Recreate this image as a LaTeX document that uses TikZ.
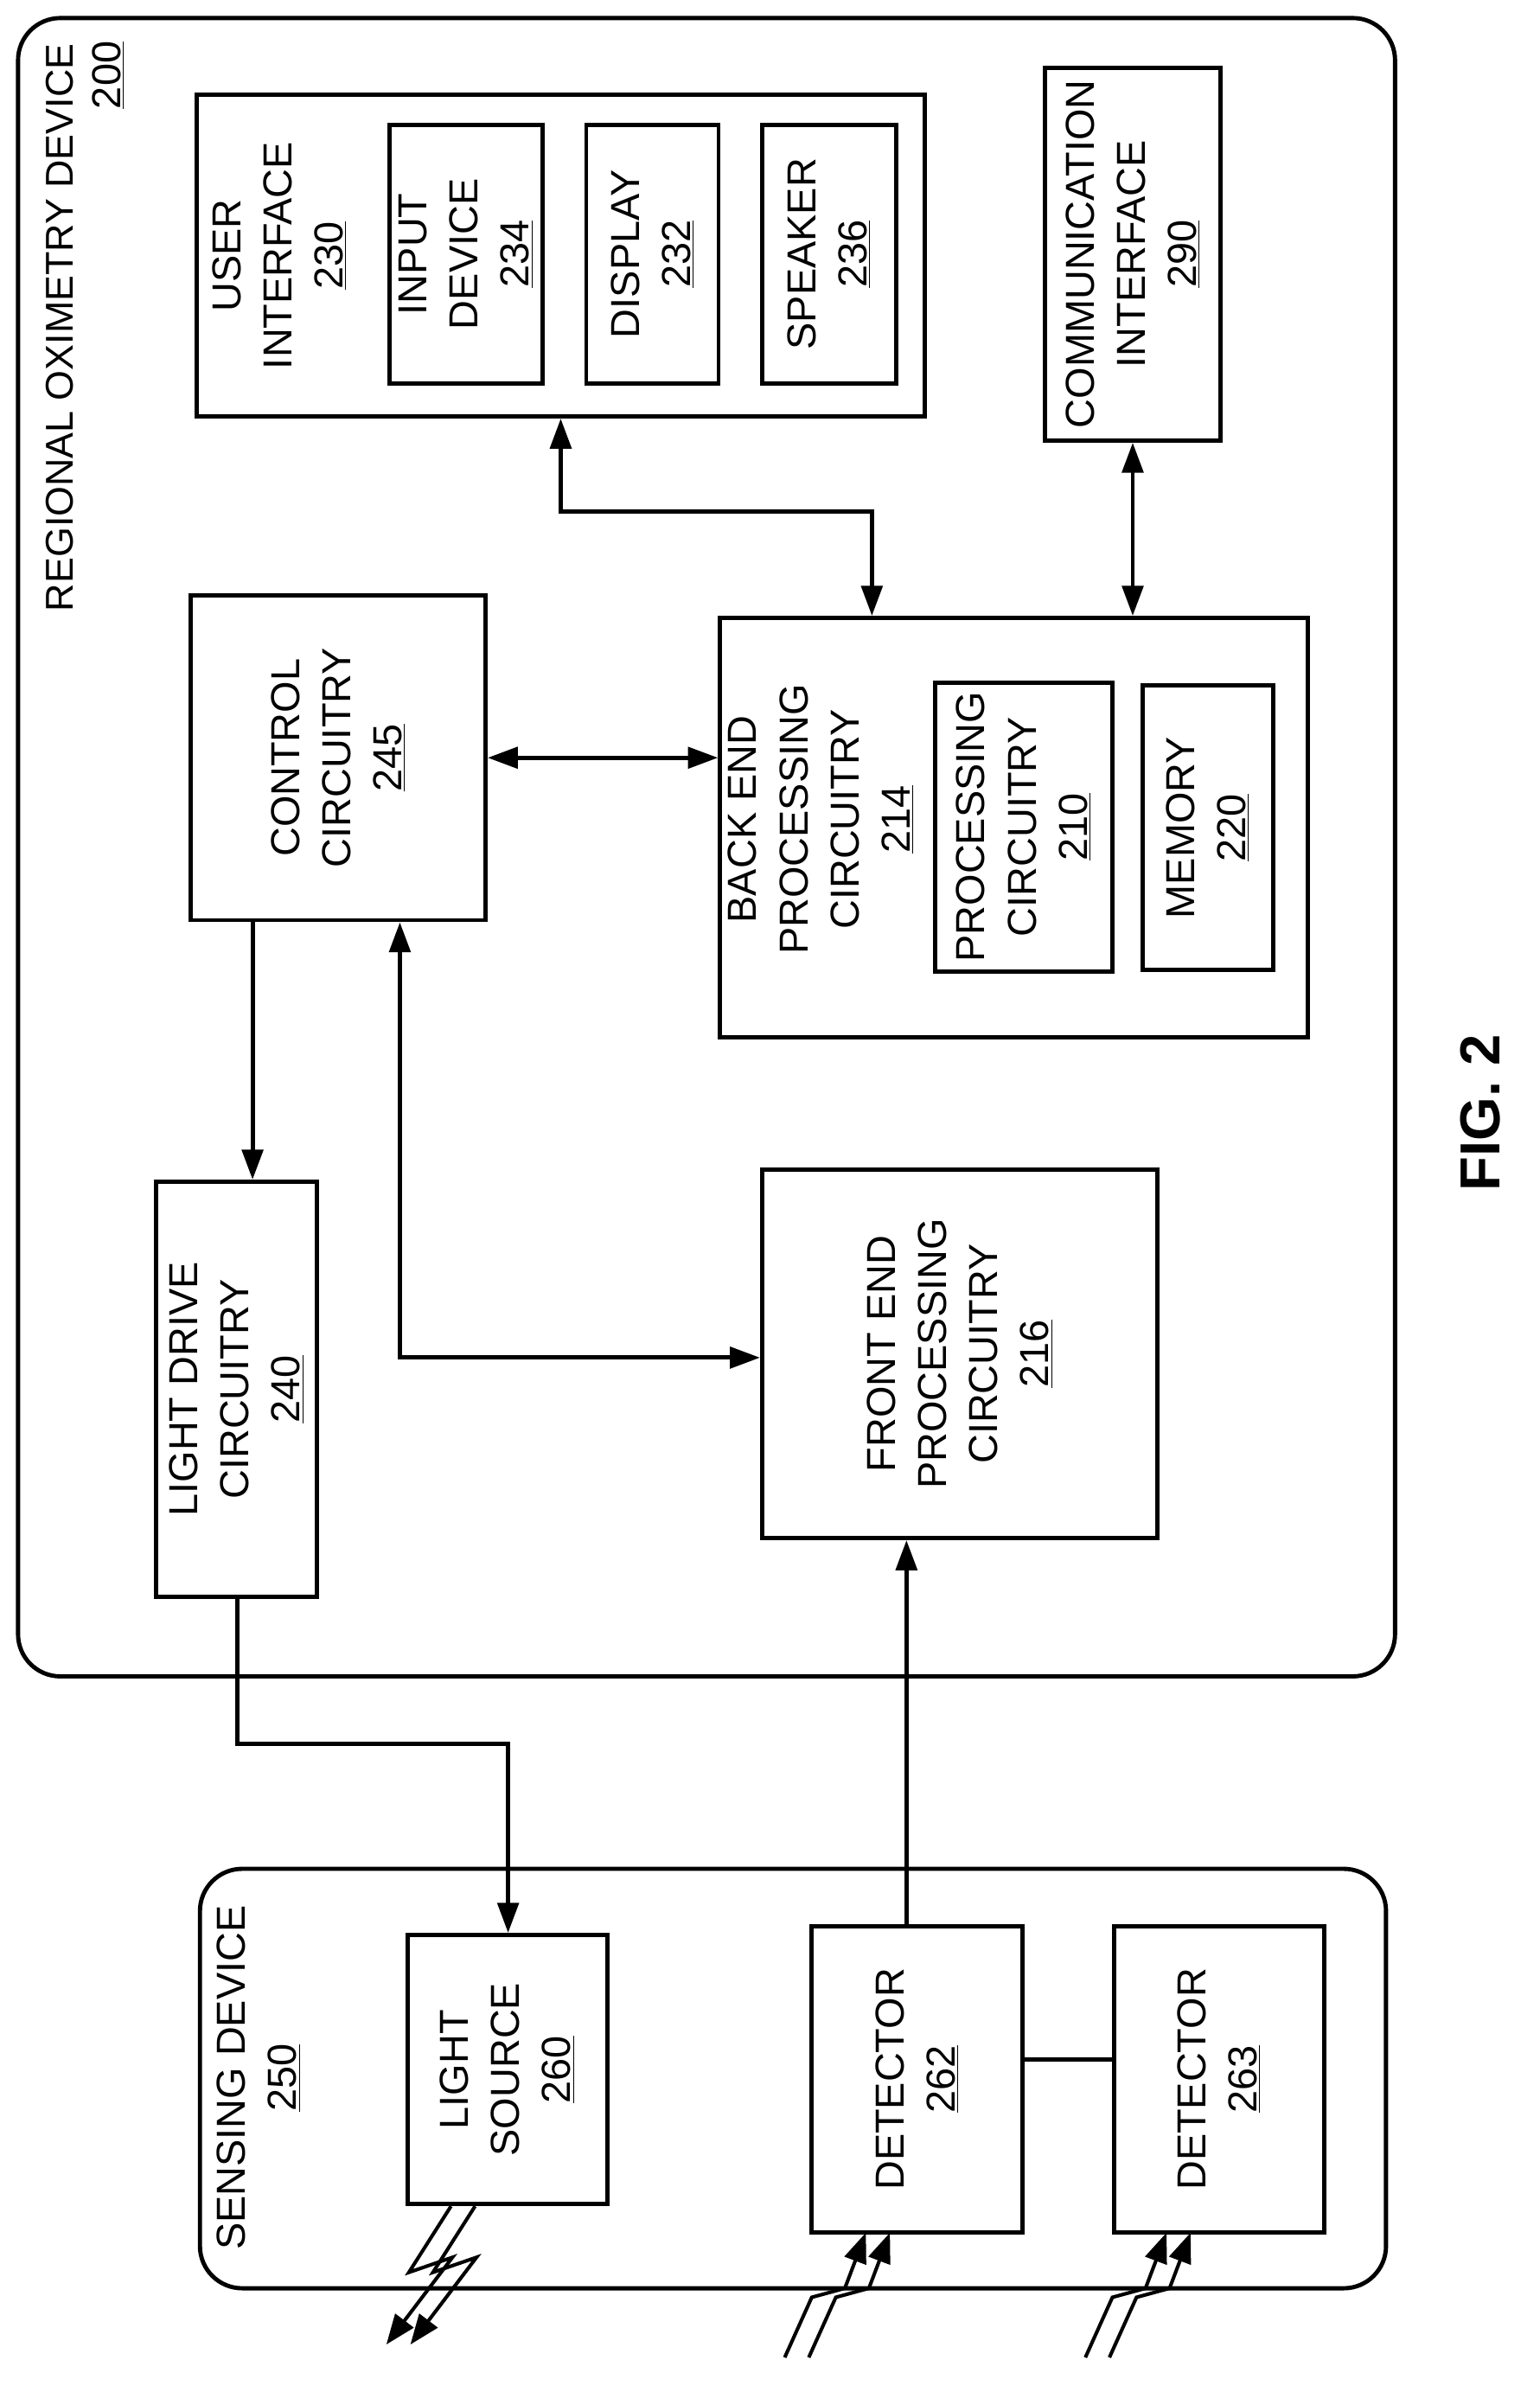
\documentclass[tikz,border=0pt]{standalone}
\usepackage{fontspec}
\setmainfont{Liberation Sans}
\usetikzlibrary{positioning, arrows.meta}
\newcommand{\ublk}[7][]{% name, x1, y1, x2, y2, text
  \node[box, #1, minimum width={(#5-#3)*0.3mm}, minimum height={(#4-#2)*0.3mm}] (#6) at ({(#2+#4)/2},{(#3+#5)/2}) {#7};}
\begin{document}
\begin{tikzpicture}[x=0.3mm, y=-0.3mm, line width=2.4pt,
        box/.style = {draw, rotate=90, align=center, inner sep=0pt, font=\fontsize{23}{29}\selectfont},%
        txt/.style = {rotate=90, align=center, font=\fontsize{23}{29}\selectfont},%
        arrow/.style = {-{Triangle[length=6mm, width=4.2mm]}},%
        both/.style = {{Triangle[length=6mm, width=4.2mm]}-{Triangle[length=6mm, width=4.2mm]}},%
        bolt/.style = {line width=2pt, -{Triangle[length=6mm, width=4.5mm]}}%
    ]%
    \useasboundingbox (0,0) rectangle (1024,1591);
    % enclosures
    \draw[rounded corners=24pt] (12,12) rectangle (928,1115);
    \node[txt, anchor=west, font=\fontsize{22}{27}\selectfont] (rod) at (40,412) {REGIONAL OXIMETRY DEVICE};
    \node[txt] (rodn) at (72,50) {\underline{200}};
    \draw[rounded corners=24pt] (133,1243) rectangle (922,1522);
    \node[txt] (sens) at (172,1382) {SENSING DEVICE\\\underline{250}};
    % blocks
    \ublk{131}{63}{615}{277}{ui}{}
    \node[txt] (uit) at (186,170) {USER\\INTERFACE\\\underline{230}};
    \ublk{259}{83}{361}{255}{inp}{INPUT\\DEVICE\\\underline{234}}
    \ublk{390}{83}{478}{255}{disp}{DISPLAY\\\underline{232}}
    \ublk{507}{83}{596}{255}{spk}{SPEAKER\\\underline{236}}
    \ublk{695}{45}{812}{293}{comm}{COMMUNICATION\\INTERFACE\\\underline{290}}
    \ublk{127}{396}{323}{612}{ctrl}{CONTROL\\CIRCUITRY\\\underline{245}}
    \ublk{479}{411}{870}{690}{be}{}
    \node[txt] (bet) at (546,545) {BACK END\\PROCESSING\\CIRCUITRY\\\underline{214}};
    \ublk{622}{454}{740}{646}{proc}{PROCESSING\\CIRCUITRY\\\underline{210}}
    \ublk{760}{456}{847}{645}{mem}{MEMORY\\\underline{220}}
    \ublk{104}{786}{211}{1062}{ld}{LIGHT DRIVE\\CIRCUITRY\\\underline{240}}
    \ublk{507}{778}{770}{1023}{fe}{FRONT END\\PROCESSING\\CIRCUITRY\\\underline{216}}
    \ublk{271}{1287}{404}{1466}{ls}{LIGHT\\SOURCE\\\underline{260}}
    \ublk{540}{1281}{680}{1485}{dA}{DETECTOR\\\underline{262}}
    \ublk{741}{1281}{881}{1485}{dB}{DETECTOR\\\underline{263}}
    \node[txt, font=\fontsize{32}{38}\selectfont\bfseries] (fig) at (985,740) {FIG. 2};
    % connectors
    \draw[both] (ui.west -| 373,0) |- (580,340) -- (be.east -| 580,0);
    \draw[both] (comm.west) -- (be.east -| comm.west);
    \draw[both] (ctrl.south) -- (be.north |- ctrl.south);
    \draw[arrow] (ctrl.west -| 168,0) -- (ld.east -| 168,0);
    \draw[both] (ctrl.west -| 266,0) |- (fe.north |- 0,903);
    \draw[arrow] (ld.west -| 158,0) |- (338,1160) -- (ls.east -| 338,0);
    \draw[arrow] (dA.east -| 603,0) -- (fe.west -| 603,0);
    \draw (dA.south |- 0,1370) -- (dB.north |- 0,1370);
    % light bolts
    \foreach \dx in {0,16} {
        \draw[bolt] (ls.west -| 300+\dx,0) -- ++(-28,44) -- ++(29,-10) -- ++(-44,58);
        \draw[bolt] (522+\dx,1568) -- ++(18,-40) -- ++(22,-6) -- ++(14,-37);
        \draw[bolt] (722+\dx,1568) -- ++(18,-40) -- ++(22,-6) -- ++(14,-37);
    }
\end{tikzpicture}
\end{document}
